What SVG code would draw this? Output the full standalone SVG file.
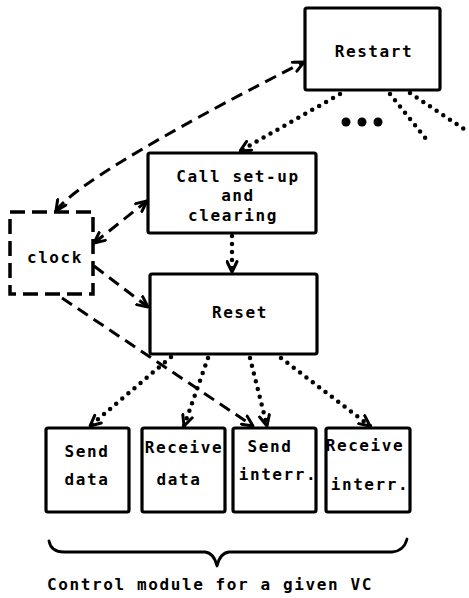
<svg xmlns="http://www.w3.org/2000/svg" width="469" height="598" viewBox="0 0 469 598">
  <style>
    .box { fill: #fff; stroke: #000; stroke-width: 3.2; stroke-linejoin: round; }
    .clockbox { fill: #fff; stroke: #000; stroke-width: 3.5; stroke-dasharray: 15 7; }
    .lbl { font-family: "DejaVu Sans Mono", "Liberation Mono", monospace; font-size: 16px; font-weight: bold; letter-spacing: 1.6px; fill: #000; text-anchor: middle; }
    .dash { fill: none; stroke: #000; stroke-width: 3; stroke-dasharray: 12 7; }
    .dot { fill: none; stroke: #000; stroke-width: 4.5; stroke-linecap: round; stroke-dasharray: 0 8; }
    .brace { fill: none; stroke: #000; stroke-width: 2.8; stroke-linejoin: round; stroke-linecap: round; }
  </style>
  <defs>
    <marker id="arrow" viewBox="0 0 13 13" refX="12" refY="6.5" markerWidth="13" markerHeight="13" markerUnits="userSpaceOnUse" orient="auto-start-reverse">
      <path d="M1.5,1.5 L12,6.5 L1.5,11.5" fill="none" stroke="#000" stroke-width="3" stroke-linecap="round" stroke-linejoin="round"/>
    </marker>
  </defs>

  <!-- connectors -->
  <g id="connectors">
    <!-- clock signals (dashed) -->
    <path class="dash" d="M56,211 C70,190 150,140 304,62" marker-start="url(#arrow)" marker-end="url(#arrow)"/>
    <path class="dash" d="M94,243 L147,201" marker-start="url(#arrow)" marker-end="url(#arrow)"/>
    <path class="dash" d="M94,266 L148,307" marker-end="url(#arrow)"/>
    <path class="dash" d="M62,298 L253,426" marker-end="url(#arrow)"/>
    <!-- control flow (dotted) -->
    <path class="dot" d="M340,94 L240,151" marker-end="url(#arrow)"/>
    <path class="dot" d="M390,94 L427,140"/>
    <path class="dot" d="M410,93 L467,131"/>
    <path class="dot" d="M232,236 L232,272" marker-end="url(#arrow)"/>
    <path class="dot" d="M171,357 L90,426" marker-end="url(#arrow)"/>
    <path class="dot" d="M208,358 L184,426" marker-end="url(#arrow)"/>
    <path class="dot" d="M250,358 L267,426" marker-end="url(#arrow)"/>
    <path class="dot" d="M281,358 L370,426" marker-end="url(#arrow)"/>
    <!-- ellipsis below Restart -->
    <circle cx="346" cy="122" r="4.5"/>
    <circle cx="362" cy="122" r="4.5"/>
    <circle cx="378" cy="122" r="4.5"/>
  </g>

  <g id="restart">
    <rect class="box" x="305" y="8" width="135" height="82" rx="2"/>
    <text class="lbl" x="374" y="57">Restart</text>
  </g>

  <g id="callsetup">
    <rect class="box" x="148" y="153" width="168" height="80" rx="2"/>
    <text class="lbl" x="238" y="182">Call set-up</text>
    <text class="lbl" x="238" y="201">and</text>
    <text class="lbl" x="233" y="221">clearing</text>
  </g>

  <g id="clock">
    <rect class="clockbox" x="10" y="212" width="83" height="82"/>
    <text class="lbl" x="55" y="263">clock</text>
  </g>

  <g id="reset">
    <rect class="box" x="150" y="274" width="167" height="80" rx="2"/>
    <text class="lbl" x="240" y="318">Reset</text>
  </g>

  <g id="senddata">
    <rect class="box" x="46" y="428" width="83" height="84" rx="2"/>
    <text class="lbl" x="87" y="457">Send</text>
    <text class="lbl" x="87" y="485">data</text>
  </g>

  <g id="receivedata">
    <rect class="box" x="142" y="428" width="83" height="84" rx="2"/>
    <text class="lbl" x="184" y="453">Receive</text>
    <text class="lbl" x="179" y="485">data</text>
  </g>

  <g id="sendinterr">
    <rect class="box" x="233" y="428" width="83" height="84" rx="2"/>
    <text class="lbl" x="270" y="452">Send</text>
    <text class="lbl" x="278" y="480">interr.</text>
  </g>

  <g id="receiveinterr">
    <rect class="box" x="326" y="428" width="84" height="84" rx="2"/>
    <text class="lbl" x="365" y="451">Receive</text>
    <text class="lbl" x="370" y="490">interr.</text>
  </g>

  <!-- grouping brace under the module row -->
  <g id="brace">
    <path class="brace" d="M49,541 Q51,552 64,552 L205,552 Q214,553 217,566 Q220,553 229,552 L392,552 Q404,551 407,539"/>
    <text class="lbl" x="210" y="590">Control module for a given VC</text>
  </g>
</svg>
